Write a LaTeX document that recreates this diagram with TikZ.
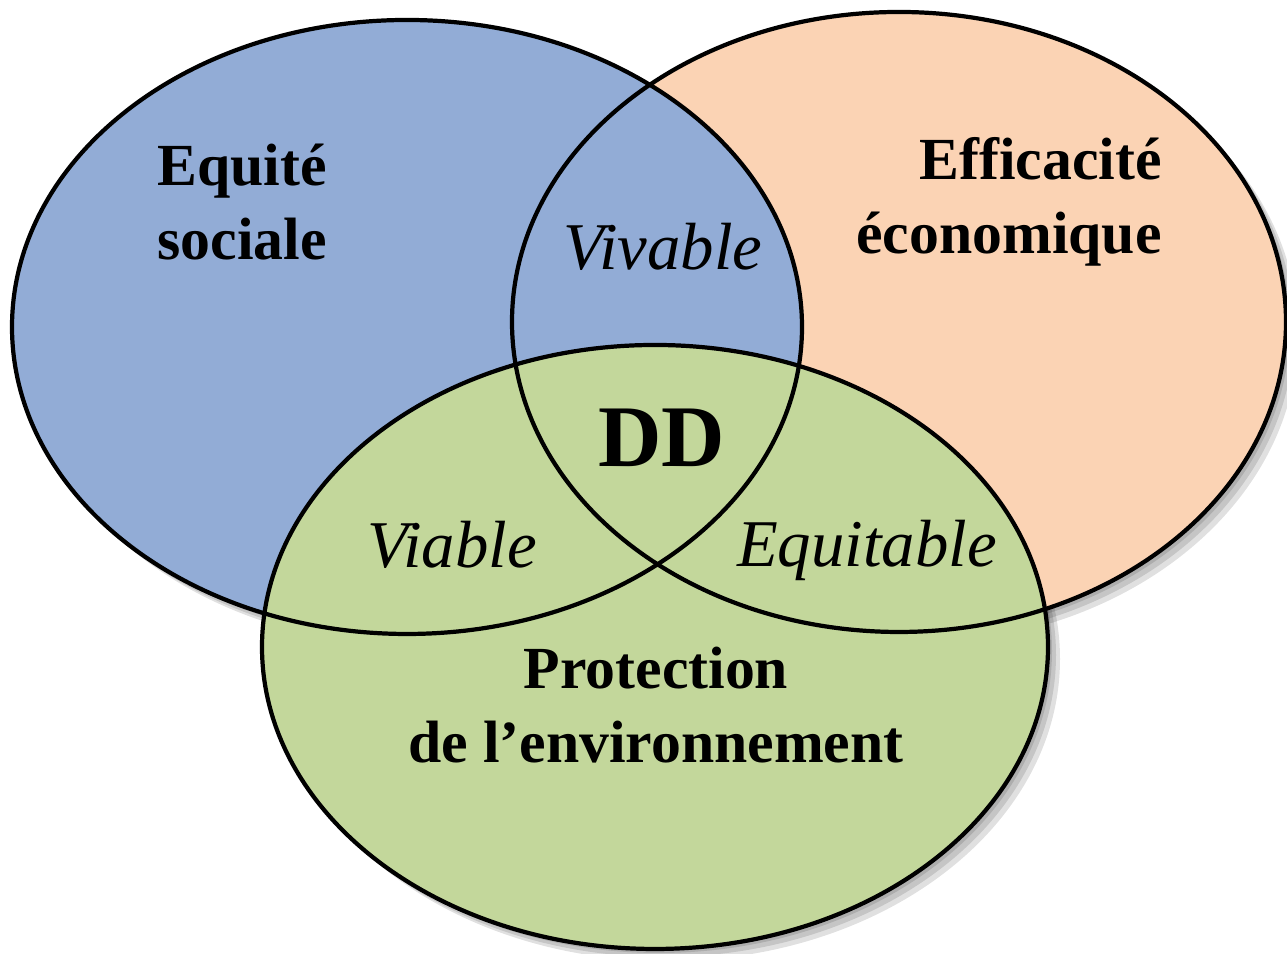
\documentclass[tikz,border=0pt]{standalone}
\usepackage{fontspec}
\setmainfont{Liberation Serif}
\definecolor{bluSociale}{HTML}{92ACD6}
\definecolor{aranEcon}{HTML}{FBD3B4}
\definecolor{verdeAmb}{HTML}{C3D79B}
\tikzset{
    insieme/.style={draw=black, line width=1.2pt},
    ombra/.style={fill=black, opacity=0.12},
    titolo/.style={font=\fontsize{17}{21}\selectfont\bfseries},
    intersez/.style={font=\fontsize{19}{23}\selectfont\itshape},
}
\begin{document}
\begin{tikzpicture}
    % area del disegno
    \useasboundingbox (0,0) rectangle (12.87,9.54);

    % ombre
    \foreach \s in {0.04,0.08,0.12} {
        \fill[ombra] (4.07+\s,6.27-\s) ellipse [x radius=3.95, y radius=3.07];
        \fill[ombra] (8.99+\s,6.32-\s) ellipse [x radius=3.87, y radius=3.10];
        \fill[ombra] (6.55+\s,3.07-\s) ellipse [x radius=3.93, y radius=3.02];
    }

    % riempimenti
    \fill[aranEcon] (8.99,6.32) ellipse [x radius=3.87, y radius=3.10];
    \fill[bluSociale] (4.07,6.27) ellipse [x radius=3.95, y radius=3.07];
    \fill[verdeAmb] (6.55,3.07) ellipse [x radius=3.93, y radius=3.02];

    % contorni
    \draw[insieme] (8.99,6.32) ellipse [x radius=3.87, y radius=3.10];
    \draw[insieme] (4.07,6.27) ellipse [x radius=3.95, y radius=3.07];
    \draw[insieme] (6.55,3.07) ellipse [x radius=3.93, y radius=3.02];

    % etichette
    \node[titolo, anchor=west, align=left] (sociale) at (1.45,7.52) {Equité\\sociale};
    \node[titolo, anchor=east, align=right] (economia) at (11.74,7.52) {Efficacité\\économique};
    \node[titolo, align=center] (ambiente) at (6.56,2.49) {Protection\\de l’environnement};

    \node[intersez] (vivable) at (6.63,7.07) {Vivable};
    \node[intersez] (viable) at (4.52,4.09) {Viable};
    \node[intersez] (equitable) at (8.67,4.04) {Equitable};

    \node[font=\fontsize{25}{30}\selectfont\bfseries] (dd) at (6.62,5.16) {DD};
\end{tikzpicture}
\end{document}
